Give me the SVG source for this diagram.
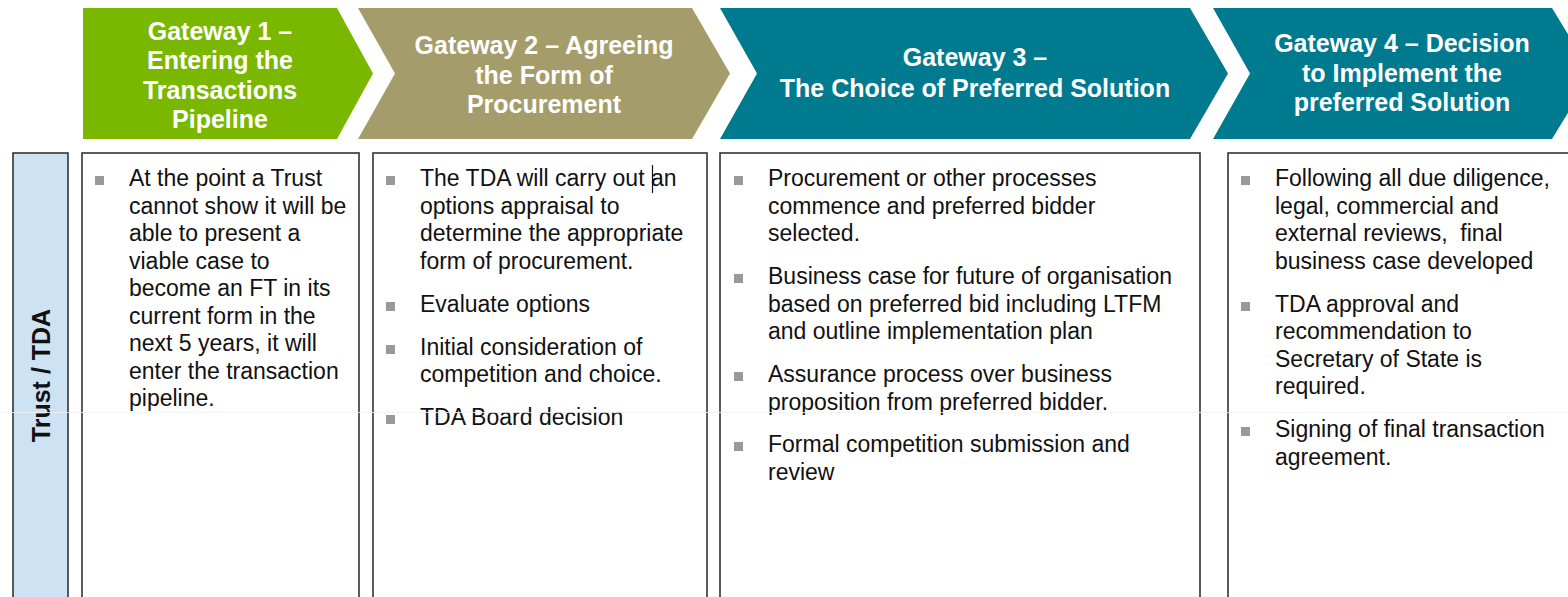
<svg xmlns="http://www.w3.org/2000/svg" width="1568" height="597" viewBox="0 0 1568 597">
<style>
.hd{font-family:"Liberation Sans",Arial,sans-serif;font-weight:bold;font-size:25px;fill:#ffffff;text-anchor:middle}
.bt{font-family:"Liberation Sans",Arial,sans-serif;font-size:23px;fill:#111111}
.box{fill:#ffffff;stroke:#333333;stroke-width:1.6}
.bul{fill:#999999}
</style>
<rect width="1568" height="597" fill="#ffffff"/>
<g id="gateway1">
<polygon points="83,8 337,8 373,73.5 337,139 83,139" fill="#7ab800"/>
<text class="hd"><tspan x="220" y="39.5">Gateway 1 –</tspan><tspan x="220" y="69">Entering the</tspan><tspan x="220" y="98.5">Transactions</tspan><tspan x="220" y="128">Pipeline</tspan></text>
</g>
<g id="gateway2">
<polygon points="358,8 692,8 730,73.5 692,139 358,139 395,73.5" fill="#a59c6c"/>
<text class="hd"><tspan x="544" y="54">Gateway 2 – Agreeing</tspan><tspan x="544" y="83.5">the Form of</tspan><tspan x="544" y="113">Procurement</tspan></text>
</g>
<g id="gateway3">
<polygon points="720,8 1190,8 1228,73.5 1190,139 720,139 757,73.5" fill="#007a8e"/>
<text class="hd"><tspan x="975" y="66">Gateway 3 –</tspan><tspan x="975" y="97">The Choice of Preferred Solution</tspan></text>
</g>
<g id="gateway4">
<polygon points="1213,8 1552,8 1592,73.5 1552,139 1213,139 1250,73.5" fill="#007a8e"/>
<text class="hd"><tspan x="1402" y="52">Gateway 4 – Decision</tspan><tspan x="1402" y="81.5">to Implement the</tspan><tspan x="1402" y="111">preferred Solution</tspan></text>
</g>
<g id="lane-label">
<rect x="13" y="153" width="55" height="460" fill="#cde3f3" stroke="#333333" stroke-width="1.6"/>
<text class="hd" style="fill:#111111" transform="translate(50,375.5) rotate(-90)" x="0" y="0">Trust / TDA</text>
</g>
<g id="box1">
<rect class="box" x="82" y="153" width="277" height="460"/>
<rect class="bul" x="95" y="176" width="9" height="9"/>
<text class="bt"><tspan x="129" y="186">At the point a Trust</tspan><tspan x="129" y="213.5">cannot show it will be</tspan><tspan x="129" y="241">able to present a</tspan><tspan x="129" y="268.5">viable case to</tspan><tspan x="129" y="296">become an FT in its</tspan><tspan x="129" y="323.5">current form in the</tspan><tspan x="129" y="351">next 5 years, it will</tspan><tspan x="129" y="378.5">enter the transaction</tspan><tspan x="129" y="406">pipeline.</tspan></text>
</g>
<g id="box2">
<rect class="box" x="373" y="153" width="334" height="460"/>
<rect class="bul" x="386" y="176" width="9" height="9"/>
<rect class="bul" x="386" y="302" width="9" height="9"/>
<rect class="bul" x="386" y="345" width="9" height="9"/>
<rect class="bul" x="386" y="415" width="9" height="9"/>
<text class="bt"><tspan x="420" y="186">The TDA will carry out an</tspan><tspan x="420" y="213.5">options appraisal to</tspan><tspan x="420" y="241">determine the appropriate</tspan><tspan x="420" y="268.5">form of procurement.</tspan><tspan x="420" y="311.5">Evaluate options</tspan><tspan x="420" y="354.5">Initial consideration of</tspan><tspan x="420" y="382">competition and choice.</tspan><tspan x="420" y="425">TDA Board decision</tspan></text>
<line x1="652.5" y1="165" x2="652.5" y2="193" stroke="#111111" stroke-width="1.2"/>
</g>
<g id="box3">
<rect class="box" x="720" y="153" width="480" height="460"/>
<rect class="bul" x="734" y="176" width="9" height="9"/>
<rect class="bul" x="734" y="274" width="9" height="9"/>
<rect class="bul" x="734" y="372" width="9" height="9"/>
<rect class="bul" x="734" y="442" width="9" height="9"/>
<text class="bt"><tspan x="768" y="186">Procurement or other processes</tspan><tspan x="768" y="213.5">commence and preferred bidder</tspan><tspan x="768" y="241">selected.</tspan><tspan x="768" y="284">Business case for future of organisation</tspan><tspan x="768" y="311.5">based on preferred bid including LTFM</tspan><tspan x="768" y="339">and outline implementation plan</tspan><tspan x="768" y="382">Assurance process over business</tspan><tspan x="768" y="409.5">proposition from preferred bidder.</tspan><tspan x="768" y="452">Formal competition submission and</tspan><tspan x="768" y="479.5">review</tspan></text>
</g>
<g id="box4">
<rect class="box" x="1228" y="153" width="400" height="460"/>
<rect class="bul" x="1241" y="176" width="9" height="9"/>
<rect class="bul" x="1241" y="302" width="9" height="9"/>
<rect class="bul" x="1241" y="427" width="9" height="9"/>
<text class="bt"><tspan x="1275" y="186">Following all due diligence,</tspan><tspan x="1275" y="213.5">legal, commercial and</tspan><tspan x="1275" y="241">external reviews,&#160; final</tspan><tspan x="1275" y="268.5">business case developed</tspan><tspan x="1275" y="311.5">TDA approval and</tspan><tspan x="1275" y="339">recommendation to</tspan><tspan x="1275" y="366.5">Secretary of State is</tspan><tspan x="1275" y="394">required.</tspan><tspan x="1275" y="437">Signing of final transaction</tspan><tspan x="1275" y="464.5">agreement.</tspan></text>
</g>
<g id="connectors"></g>
<line x1="0" y1="412.5" x2="1568" y2="412.5" stroke="#f3f3f3" stroke-width="1" opacity="0.8"/>
</svg>
